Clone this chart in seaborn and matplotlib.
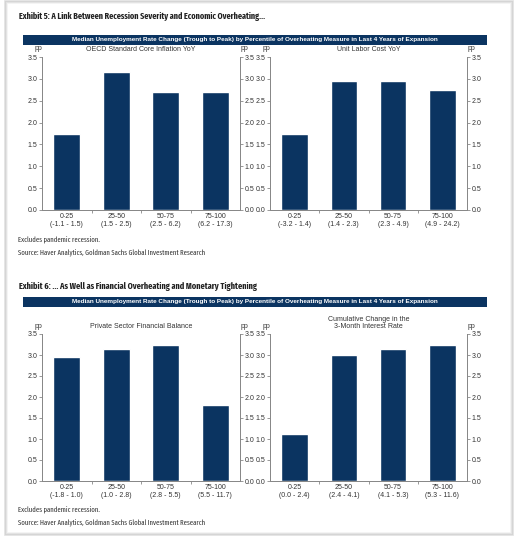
import numpy as np
import pandas as pd
import matplotlib
matplotlib.use("Agg")
import matplotlib.pyplot as plt
import seaborn as sns
from matplotlib.patches import Rectangle
from matplotlib import font_manager

# data
buckets = ["0-25", "25-50", "50-75", "75-100"]

titles = ["OECD Standard Core Inflation YoY",
          "Unit Labor Cost YoY",
          "Private Sector Financial Balance",
          "Cumulative Change in the\n3-Month Interest Rate"]

ranges_oecd = ["(-1.1 - 1.5)", "(1.5 - 2.5)", "(2.5 - 6.2)", "(6.2 - 17.3)"]
ranges_ulc = ["(-3.2 - 1.4)", "(1.4 - 2.3)", "(2.3 - 4.9)", "(4.9 - 24.2)"]
ranges_psfb = ["(-1.8 - 1.0)", "(1.0 - 2.8)", "(2.8 - 5.5)", "(5.5 - 11.7)"]
ranges_rate = ["(0.0 - 2.4)", "(2.4 - 4.1)", "(4.1 - 5.3)", "(5.3 - 11.6)"]

vals_oecd = [1.73, 3.15, 2.69, 2.70]
vals_ulc = [1.75, 2.94, 2.95, 2.75]
vals_psfb = [2.95, 3.15, 3.24, 1.80]
vals_rate = [1.11, 2.99, 3.15, 3.24]

exhibit5 = "Exhibit 5: A Link Between Recession Severity and Economic Overheating..."
exhibit6 = "Exhibit 6: ... As Well as Financial Overheating and Monetary Tightening"
banner = "Median Unemployment Rate Change (Trough to Peak) by Percentile of Overheating Measure in Last 4 Years of Expansion"
note = "Excludes pandemic recession."
source = "Source: Haver Analytics, Goldman Sachs Global Investment Research"

navy = "#0b3461"
grey = "#888888"

# pick a condensed face for the exhibit headers if one is installed
have = {f.name for f in font_manager.fontManager.ttflist}
narrow = "DejaVu Sans"
for cand in ["Fira Sans Extra Condensed", "Fira Sans Condensed", "Roboto Condensed",
             "PT Sans Narrow", "Archivo Narrow", "Liberation Sans Narrow",
             "Open Sans Condensed", "Encode Sans Condensed", "IBM Plex Sans Condensed",
             "Asap Condensed"]:
    if cand in have:
        narrow = cand
        break

sns.set_style("white")
plt.rcParams["font.family"] = ["Liberation Sans", "DejaVu Sans"]

W, H = 516, 538
fig = plt.figure(figsize=(W / 100, H / 100), dpi=100)
renderer = fig.canvas.get_renderer()


def fx(px):
    return px / W


def fy(py):
    return 1 - py / H


def fit_text(x, y, s, width_px, max_size, **kw):
    # shrink the font until the text is about as wide as in the reference
    t = fig.text(fx(x), fy(y), s, fontsize=max_size, va="center", **kw)
    w = t.get_window_extent(renderer).width
    if w > width_px:
        t.set_fontsize(max_size * width_px / w)
    return t


# card with soft shadow
for i, a in enumerate([0.05, 0.08, 0.12]):
    fig.patches.append(Rectangle((fx(7 - i), fy(533 + i)), fx(504 + 2 * i), fy(3 - i) - fy(533 + i),
                                 transform=fig.transFigure, facecolor="none",
                                 edgecolor=(0, 0, 0, a), lw=1.2))


def draw_panel(rect, title, vals, ranges):
    ax = fig.add_axes(rect)
    df = pd.DataFrame({"bucket": [b + "\n" + r for b, r in zip(buckets, ranges)],
                       "value": vals})
    sns.barplot(data=df, x="bucket", y="value", color=navy, width=0.54,
                saturation=1, ax=ax)
    ax.set_xlim(-0.5, 3.5)
    ax.set_ylim(0, 3.5)
    ax.set_yticks(np.arange(0, 3.51, 0.5))
    ax.set_yticklabels([f"{v:.1f}" for v in np.arange(0, 3.51, 0.5)])
    ax.set_xlabel("")
    ax.set_ylabel("")
    ax.set_xticks([0.5, 1.5, 2.5], minor=True)
    ax.tick_params(axis="x", which="major", length=0, labelsize=5, pad=2, colors="#333333")
    ax.tick_params(axis="x", which="minor", length=2, width=0.6, color=grey, bottom=True)
    ax.tick_params(axis="y", length=2, width=0.6, color=grey, labelsize=5, pad=1.5,
                   labelcolor="#333333", left=True)
    for s in ["left", "right", "bottom"]:
        ax.spines[s].set_color(grey)
        ax.spines[s].set_linewidth(0.7)
    ax.spines["top"].set_visible(False)
    ax2 = ax.twinx()
    ax2.set_ylim(0, 3.5)
    ax2.set_yticks(np.arange(0, 3.51, 0.5))
    ax2.set_yticklabels([f"{v:.1f}" for v in np.arange(0, 3.51, 0.5)])
    ax2.tick_params(axis="y", length=2, width=0.6, color=grey, labelsize=5, pad=1.5,
                    labelcolor="#333333", right=True)
    for s in ["left", "right", "bottom"]:
        ax2.spines[s].set_color(grey)
        ax2.spines[s].set_linewidth(0.7)
    ax2.spines["top"].set_visible(False)
    ax.text(-0.02, 1.03, "pp", transform=ax.transAxes, ha="center", va="bottom",
            fontsize=5, color="#333333")
    ax.text(1.02, 1.03, "pp", transform=ax.transAxes, ha="center", va="bottom",
            fontsize=5, color="#333333")
    ax.text(0.5, 1.025, title, transform=ax.transAxes, ha="center", va="bottom",
            fontsize=5, color="#333333", linespacing=1.1)
    return ax


top_y, top_h = fy(210), fy(57) - fy(210)
bot_y, bot_h = fy(481), fy(334) - fy(481)
draw_panel([fx(42), top_y, fx(198), top_h], titles[0], vals_oecd, ranges_oecd)
draw_panel([fx(270), top_y, fx(197), top_h], titles[1], vals_ulc, ranges_ulc)
draw_panel([fx(42), bot_y, fx(198), bot_h], titles[2], vals_psfb, ranges_psfb)
draw_panel([fx(270), bot_y, fx(197), bot_h], titles[3], vals_rate, ranges_rate)

# headers, banners and footnotes
for head, head_w, title_y, band_y, note_y in [(exhibit5, 247, 16, 35, 239),
                                              (exhibit6, 239, 286, 297, 509)]:
    fit_text(19, title_y, head, head_w, 8, fontweight="bold", family=narrow, color="#222222")
    fig.patches.append(Rectangle((fx(23), fy(band_y + 10)), fx(464), fy(band_y) - fy(band_y + 10),
                                 transform=fig.transFigure, facecolor=navy, edgecolor="none"))
    fig.text(fx(255), fy(band_y + 5), banner, fontsize=4.6, fontweight="bold",
             color="white", ha="center", va="center")
    fit_text(18, note_y, note, 82, 5.2, family=narrow, color="#333333")
    fit_text(18, note_y + 13, source, 188, 5.2, family=narrow, color="#333333")

fig.savefig("out.png", dpi=100)
